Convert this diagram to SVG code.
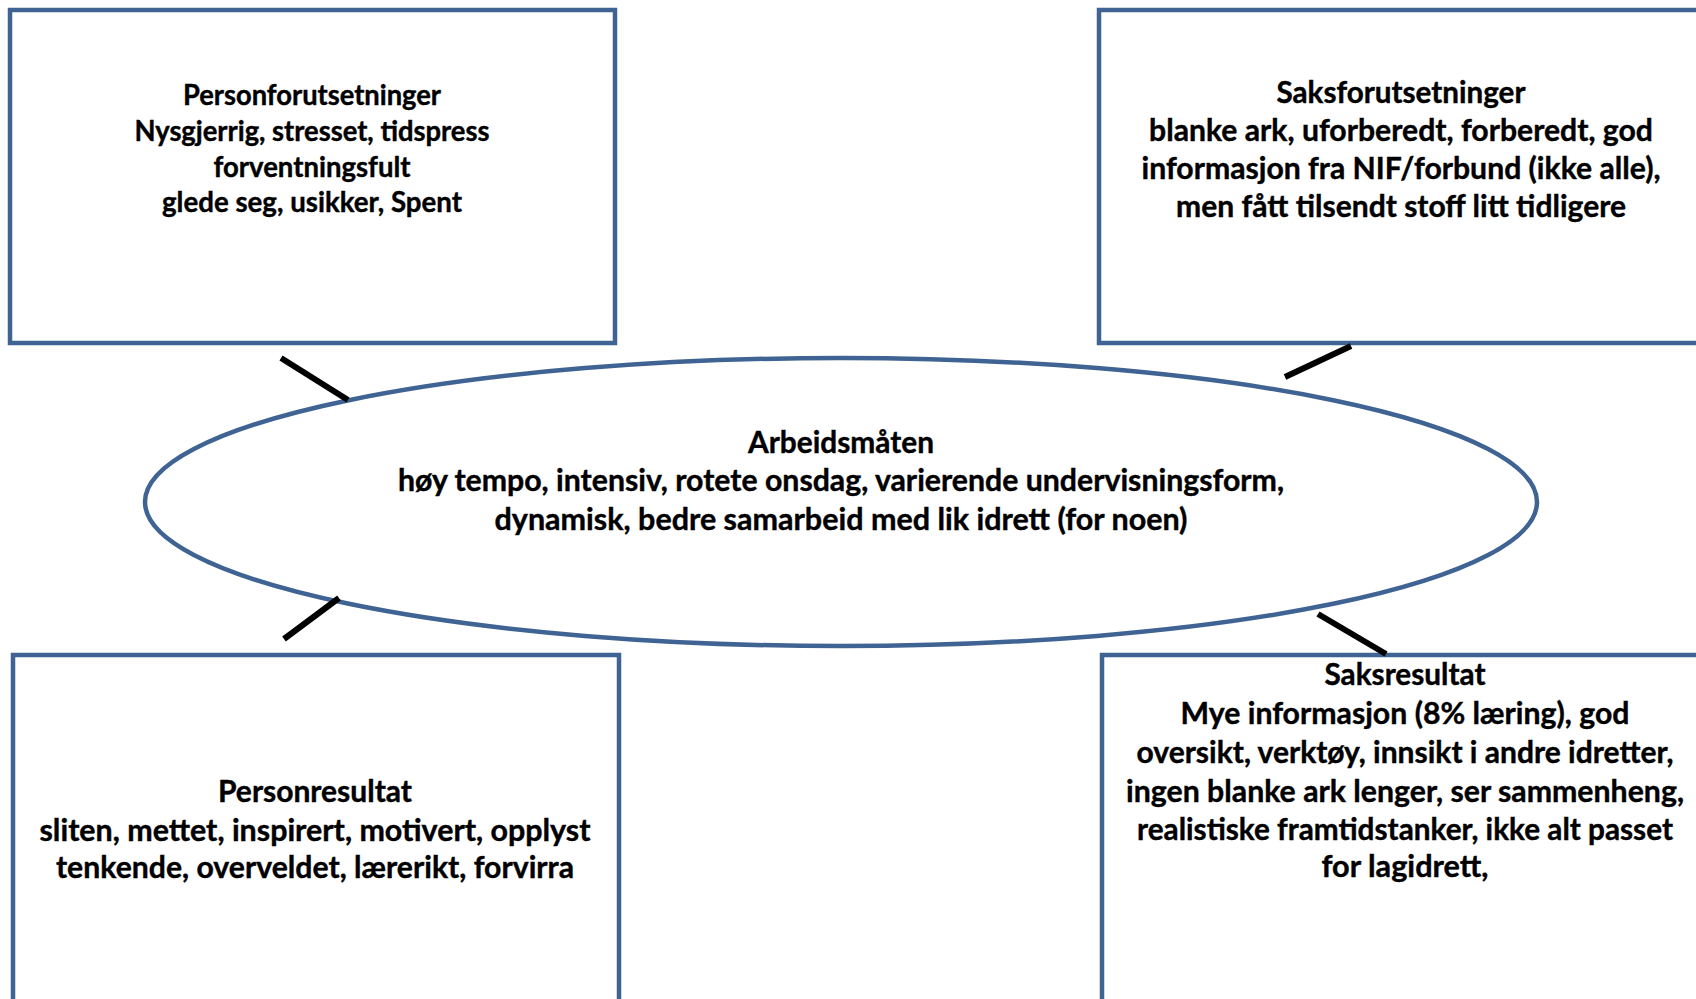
<svg xmlns="http://www.w3.org/2000/svg" width="1696" height="999" viewBox="0 0 1696 999">
<style>
.box{fill:#ffffff;stroke:#3F6393;stroke-width:4.5}
.ell{fill:#ffffff;stroke:#3F6393;stroke-width:4.5}
.con{stroke:#000000;stroke-width:6;fill:none}
text{font-family:Lato,"Open Sans","Liberation Sans",sans-serif;font-weight:bold;fill:#000000;text-anchor:middle;stroke:#000000;stroke-width:0.4}
.s26{font-size:28px}
.s28{font-size:30px}
</style>
<rect width="1696" height="999" fill="#ffffff"/>
<g id="personforutsetninger">
<rect class="box" x="10" y="10" width="605" height="333"/>
<text class="s26" x="312" y="105" textLength="258" lengthAdjust="spacingAndGlyphs">Personforutsetninger</text>
<text class="s26" x="312" y="141" textLength="355" lengthAdjust="spacingAndGlyphs">Nysgjerrig, stresset, tidspress</text>
<text class="s26" x="312" y="177" textLength="197" lengthAdjust="spacingAndGlyphs">forventningsfult</text>
<text class="s26" x="312" y="212" textLength="300" lengthAdjust="spacingAndGlyphs">glede seg, usikker, Spent</text>
</g>
<g id="saksforutsetninger">
<rect class="box" x="1099" y="10" width="610" height="333"/>
<text class="s28" x="1401" y="103" textLength="249" lengthAdjust="spacingAndGlyphs">Saksforutsetninger</text>
<text class="s28" x="1401" y="141" textLength="504" lengthAdjust="spacingAndGlyphs">blanke ark, uforberedt, forberedt, god</text>
<text class="s28" x="1401" y="179" textLength="519" lengthAdjust="spacingAndGlyphs">informasjon fra NIF/forbund (ikke alle),</text>
<text class="s28" x="1401" y="217" textLength="450" lengthAdjust="spacingAndGlyphs">men fått tilsendt stoff litt tidligere</text>
</g>
<g id="arbeidsmaten">
<ellipse class="ell" cx="841" cy="502" rx="696" ry="144"/>
<text class="s28" x="841" y="453" textLength="186" lengthAdjust="spacingAndGlyphs">Arbeidsmåten</text>
<text class="s28" x="841" y="491" textLength="886" lengthAdjust="spacingAndGlyphs">høy tempo, intensiv, rotete onsdag, varierende undervisningsform,</text>
<text class="s28" x="841" y="530" textLength="693" lengthAdjust="spacingAndGlyphs">dynamisk, bedre samarbeid med lik idrett (for noen)</text>
</g>
<g id="personresultat">
<rect class="box" x="13" y="655" width="606" height="360"/>
<text class="s28" x="315" y="802" textLength="194" lengthAdjust="spacingAndGlyphs">Personresultat</text>
<text class="s28" x="315" y="841" textLength="551" lengthAdjust="spacingAndGlyphs">sliten, mettet, inspirert, motivert, opplyst</text>
<text class="s28" x="315" y="878" textLength="518" lengthAdjust="spacingAndGlyphs">tenkende, overveldet, lærerikt, forvirra</text>
</g>
<g id="saksresultat">
<rect class="box" x="1102" y="655" width="610" height="360"/>
<text class="s28" x="1405" y="685" textLength="161" lengthAdjust="spacingAndGlyphs">Saksresultat</text>
<text class="s28" x="1405" y="724" textLength="449" lengthAdjust="spacingAndGlyphs">Mye informasjon (8% læring), god</text>
<text class="s28" x="1405" y="763" textLength="537" lengthAdjust="spacingAndGlyphs">oversikt, verktøy, innsikt i andre idretter,</text>
<text class="s28" x="1405" y="802" textLength="558" lengthAdjust="spacingAndGlyphs">ingen blanke ark lenger, ser sammenheng,</text>
<text class="s28" x="1405" y="840" textLength="536" lengthAdjust="spacingAndGlyphs">realistiske framtidstanker, ikke alt passet</text>
<text class="s28" x="1405" y="877" textLength="167" lengthAdjust="spacingAndGlyphs">for lagidrett,</text>
</g>
<g id="connectors">
<line class="con" x1="281" y1="358" x2="348" y2="400"/>
<line class="con" x1="1351" y1="346" x2="1285" y2="377"/>
<line class="con" x1="339" y1="598" x2="284" y2="639"/>
<line class="con" x1="1318" y1="614" x2="1386" y2="654"/>
</g>
</svg>
